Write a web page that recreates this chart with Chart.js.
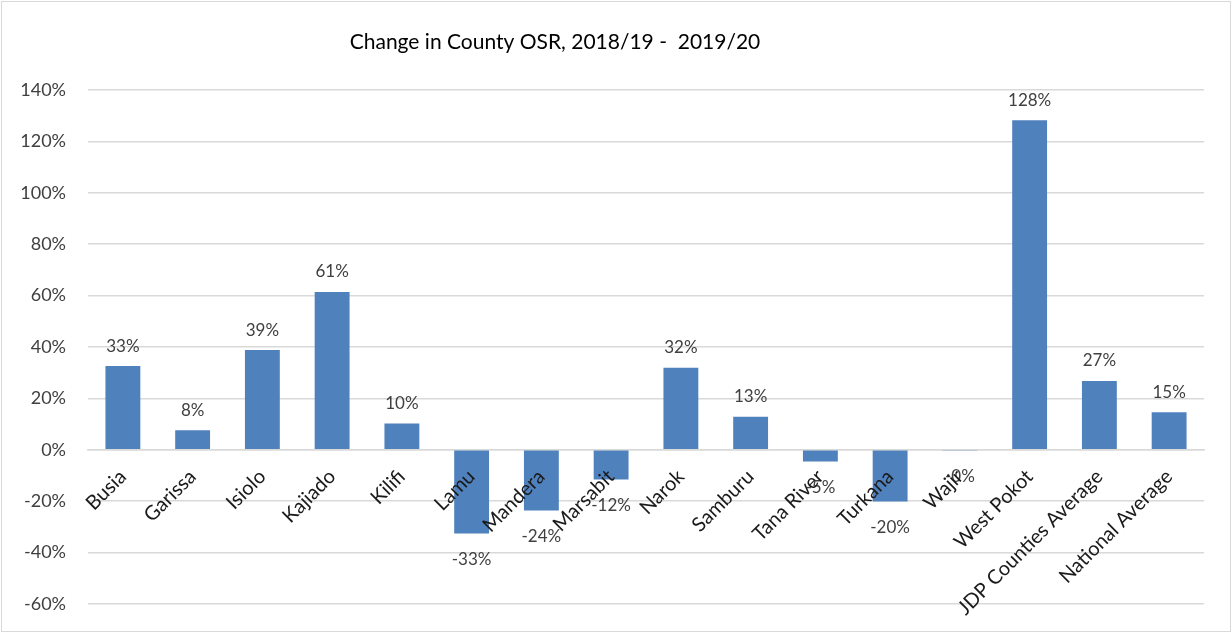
<!DOCTYPE html>
<html>
<head>
<meta charset="utf-8">
<script src="https://cdn.jsdelivr.net/npm/chart.js@4/dist/chart.umd.min.js"></script>
<style>
  html, body { margin: 0; padding: 0; background: #fff; }
  #wrap { position: relative; width: 1232px; height: 633px; }
  #frame { position: absolute; left: 1px; top: 1px; width: 1228px; height: 629px; border: 1px solid #d9d9d9; pointer-events: none; }
</style>
</head>
<body>
<div id="wrap">
  <canvas id="c" width="1232" height="633"></canvas>
  <div id="frame"></div>
</div>
<script>
const titleText = 'Change in County OSR, 2018/19 -  2019/20';
const categories = ['Busia', 'Garissa', 'Isiolo', 'Kajiado', 'Kilifi', 'Lamu', 'Mandera', 'Marsabit', 'Narok', 'Samburu', 'Tana River', 'Turkana', 'Wajir', 'West Pokot', 'JDP Counties Average', 'National Average'];
const changePct = [32.6, 7.6, 38.8, 61.4, 10.2, -32.6, -23.6, -11.6, 31.9, 12.9, -4.6, -20.1, -0.4, 128.2, 26.8, 14.6];
const yMin = -60, yMax = 140, yStep = 20;

const FONT = 'Lato, "Open Sans", sans-serif';

const titlePlugin = {
  id: 'customTitle',
  afterDraw(chart) {
    const ctx = chart.ctx;
    ctx.save();
    ctx.font = '21px ' + FONT;
    ctx.fillStyle = '#000000';
    ctx.textAlign = 'center';
    ctx.textBaseline = 'middle';
    ctx.fillText(titleText, 555, 42);
    ctx.restore();
  }
};

const valueLabels = {
  id: 'valueLabels',
  afterDatasetsDraw(chart) {
    const ctx = chart.ctx;
    const meta = chart.getDatasetMeta(0);
    const data = chart.data.datasets[0].data;
    ctx.save();
    ctx.font = '17px ' + FONT;
    ctx.fillStyle = '#404040';
    ctx.textAlign = 'center';
    ctx.textBaseline = 'middle';
    meta.data.forEach((el, i) => {
      const v = data[i];
      const txt = v.toFixed(0) + '%';
      const y = v >= 0 ? el.y - 20 : el.y + 26;
      ctx.fillText(txt, el.x, y);
    });
    ctx.restore();
  }
};

new Chart(document.getElementById('c'), {
  type: 'bar',
  data: {
    labels: categories,
    datasets: [{
      data: changePct,
      backgroundColor: '#4f81bd',
      borderWidth: 0,
      barPercentage: 0.5,
      categoryPercentage: 1.0
    }]
  },
  options: {
    responsive: false,
    animation: false,
    layout: { padding: { left: 2, right: 28, top: 90, bottom: 29 } },
    plugins: {
      legend: { display: false },
      title: { display: false },
      tooltip: { enabled: false }
    },
    scales: {
      x: {
        position: { y: 0 },
        grid: { display: false, drawTicks: false },
        border: { display: true, color: '#d9d9d9', width: 1.5 },
        ticks: {
          z: 1,
          autoSkip: false,
          maxRotation: 45,
          minRotation: 45,
          padding: 15,
          color: '#1a1a1a',
          font: { family: FONT, size: 20 }
        }
      },
      y: {
        min: yMin,
        max: yMax,
        afterFit(scale) { scale.width = 86; },
        grid: { color: '#d9d9d9', lineWidth: 1.5, drawTicks: true, tickLength: 22, tickColor: 'rgba(0,0,0,0)' },
        border: { display: false },
        ticks: {
          stepSize: yStep,
          padding: 0,
          color: '#404040',
          font: { family: FONT, size: 18 },
          callback: v => v + '%'
        }
      }
    }
  },
  plugins: [titlePlugin, valueLabels]
});
</script>
</body>
</html>
